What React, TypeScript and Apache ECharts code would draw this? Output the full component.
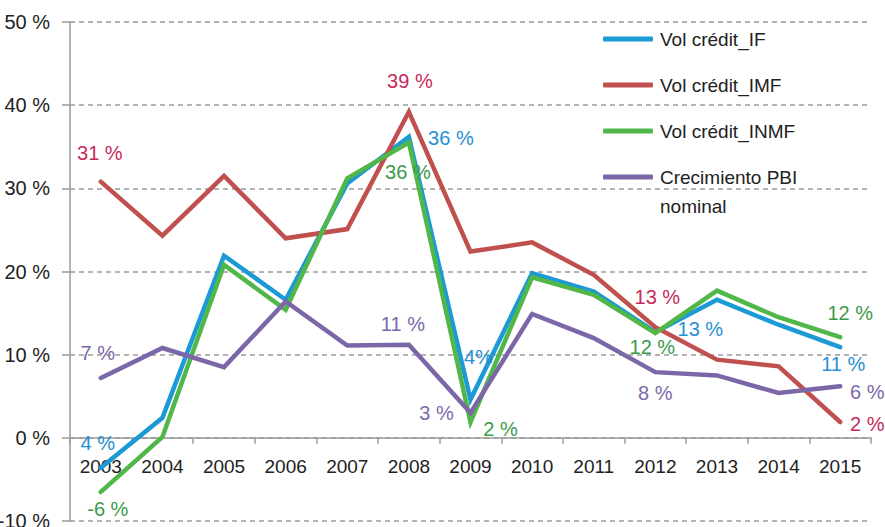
import React, { useEffect, useRef } from "react";
import * as echarts from "echarts";

const years = ["2003", "2004", "2005", "2006", "2007", "2008", "2009", "2010", "2011", "2012", "2013", "2014", "2015"];
const volIF = [-3.6, 2.4, 21.9, 16.6, 30.6, 36.2, 4.6, 19.8, 17.6, 12.7, 16.6, 13.6, 10.9];
const volIMF = [30.8, 24.3, 31.5, 24.0, 25.1, 39.2, 22.4, 23.5, 19.6, 13.3, 9.4, 8.6, 1.9];
const volINMF = [-6.5, 0.1, 20.8, 15.4, 31.2, 35.5, 1.9, 19.3, 17.2, 12.6, 17.7, 14.5, 12.1];
const pbi = [7.2, 10.8, 8.5, 16.4, 11.1, 11.2, 3.0, 14.9, 12.0, 7.9, 7.5, 5.4, 6.2];

const seriesNames = ["Vol crédit_IF", "Vol crédit_IMF", "Vol crédit_INMF", "Crecimiento PBI nominal"];
const lineColors = ["#1b9ad6", "#c0504d", "#50b748", "#7b66a8"];
const labelColors = ["#2590d2", "#c82a58", "#3b9a4a", "#7d68aa"];

// point labels: [series index, year index, text]
const pointLabels: [number, number, string][] = [
  [0, 0, "4 %"], [0, 5, "36 %"], [0, 6, "4%"], [0, 9, "13 %"], [0, 12, "11 %"],
  [1, 0, "31 %"], [1, 5, "39 %"], [1, 9, "13 %"], [1, 12, "2 %"],
  [2, 0, "-6 %"], [2, 5, "36 %"], [2, 6, "2 %"], [2, 9, "12 %"], [2, 12, "12 %"],
  [3, 0, "7 %"], [3, 5, "11 %"], [3, 6, "3 %"], [3, 9, "8 %"], [3, 12, "6 %"],
];
// label offsets (layout), same order as pointLabels
const labelOffsets: [number, number][] = [
  [-3, -25], [42, 1], [8, -43], [45, -3], [3, 17],
  [-1, -29], [1, -31], [2, -30], [27, 2],
  [7, 17], [-1, 29], [30, 7], [-3, 14], [10, -24],
  [-3, -25], [-6, -21], [-34, 0], [0, 21], [27, 6],
];

const FONT = "'Liberation Sans', Arial, sans-serif";
const GRID_TOP = 22;
const GRID_BOTTOM = 6;
const Y_MIN = -10;
const Y_MAX = 50;

export default function App() {
  const ref = useRef<HTMLDivElement>(null);
  useEffect(() => {
    if (!ref.current) return;
    const chart = echarts.init(ref.current, undefined, { renderer: "svg" });
    const plotH = 527 - GRID_TOP - GRID_BOTTOM;
    const zeroOffset = -(plotH * (0 - Y_MIN)) / (Y_MAX - Y_MIN);
    const allData = [volIF, volIMF, volINMF, pbi];
    const series = allData.map((vals, si) => ({
      name: seriesNames[si],
      type: "line",
      symbol: "circle",
      symbolSize: 1,
      showSymbol: true,
      showAllSymbol: true,
      z: 2 + si,
      lineStyle: { color: lineColors[si], width: 4.5, cap: "round", join: "miter" },
      itemStyle: { color: lineColors[si] },
      data: vals.map((v, yi) => {
        const idx = pointLabels.findIndex((p) => p[0] === si && p[1] === yi);
        if (idx < 0) return v;
        return {
          value: v,
          label: {
            show: true,
            position: "inside",
            offset: labelOffsets[idx],
            formatter: pointLabels[idx][2],
            color: labelColors[si],
            fontFamily: FONT,
            fontSize: 20,
          },
        };
      }),
    }));
    chart.setOption({
      animation: false,
      textStyle: { fontFamily: FONT },
      grid: { left: 70, right: 14, top: GRID_TOP, bottom: GRID_BOTTOM, containLabel: false, outerBoundsMode: "none" },
      legend: {
        orient: "vertical",
        left: 603,
        top: 28,
        padding: 0,
        itemWidth: 50,
        itemHeight: 5,
        itemGap: 24,
        icon: "roundRect",
        data: seriesNames,
        formatter: (name: string) => (name === "Crecimiento PBI nominal" ? "Crecimiento PBI" : name),
        textStyle: { fontFamily: FONT, fontSize: 19, color: "#222", lineHeight: 22, padding: [0, 0, 0, 2] },
      },
      graphic: [
        {
          type: "text",
          left: 660,
          top: 197,
          style: { text: "nominal", font: `19px ${FONT}`, fill: "#222" },
        },
      ],
      xAxis: {
        type: "category",
        data: years,
        boundaryGap: true,
        position: "bottom",
        offset: zeroOffset,
        axisLine: { onZero: false, lineStyle: { color: "#9a9a9a", width: 1.5 } },
        axisTick: { show: true, length: 6, lineStyle: { color: "#9a9a9a", width: 1.5 } },
        axisLabel: { color: "#222", fontSize: 19, margin: 19, fontFamily: FONT, interval: 0 },
        z: 1,
      },
      yAxis: {
        type: "value",
        min: Y_MIN,
        max: Y_MAX,
        interval: 10,
        axisLine: { show: true, lineStyle: { color: "#9a9a9a", width: 1.5 } },
        axisTick: { show: true, length: 8, lineStyle: { color: "#9a9a9a", width: 1.5 } },
        axisLabel: { formatter: "{value} %", color: "#222", fontSize: 20, margin: 20, fontFamily: FONT },
        splitLine: { show: true, lineStyle: { color: "#9a9a9a", width: 1.5, type: [5, 4] } },
      },
      series,
    });
    return () => chart.dispose();
  }, []);
  return <div ref={ref} style={{ width: 885, height: 527, position: "absolute", left: 0, top: 0 }} />;
}
